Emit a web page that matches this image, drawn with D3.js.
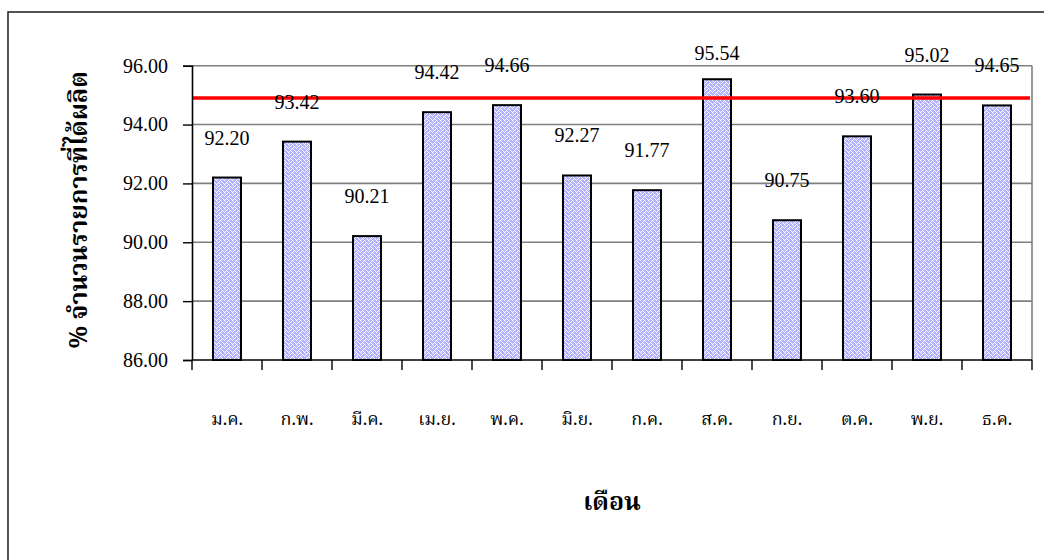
<!DOCTYPE html>
<html>
<head>
<meta charset="utf-8">
<script src="https://cdn.jsdelivr.net/npm/d3@7"></script>
<style>
  html, body { margin: 0; padding: 0; background: #fff; }
  svg { display: block; }
  .thai { font-family: "Noto Serif Thai", "Noto Sans Thai Looped", "Angsana New", "Noto Sans Thai", "Tahoma", serif; }
</style>
</head>
<body>
<svg id="chart" width="1044" height="560"></svg>
<script>
// Monthly share of items produced (%), Jan–Dec
const months = ["ม.ค.", "ก.พ.", "มี.ค.", "เม.ย.", "พ.ค.", "มิ.ย.", "ก.ค.", "ส.ค.", "ก.ย.", "ต.ค.", "พ.ย.", "ธ.ค."];
const values = [92.20, 93.42, 90.21, 94.42, 94.66, 92.27, 91.77, 95.54, 90.75, 93.60, 95.02, 94.65];
const targetValue = 94.9;
const yTicks = [86, 88, 90, 92, 94, 96];
const yTitle = "% จำนวนรายการที่ได้ผลิต";
const xTitle = "เดือน";

const serif = "Liberation Serif, Times New Roman, serif";
const svg = d3.select("#chart");
const plot = { left: 192, right: 1032, top: 65.7, bottom: 360 };

// outer chart frame (only its left and top edges fall inside the view)
svg.append("rect").attr("x", 8).attr("y", 12).attr("width", 1200).attr("height", 700)
  .attr("fill", "none").attr("stroke", "#2a2a2a").attr("stroke-width", 1.6);

// weave fill pattern for the bars
const defs = svg.append("defs");
const pat = defs.append("pattern").attr("id", "weave").attr("patternUnits", "userSpaceOnUse")
  .attr("width", 8).attr("height", 8);
pat.append("rect").attr("width", 8).attr("height", 8).attr("fill", "#ffffff");
const bits = [0x88, 0x54, 0x22, 0x45, 0x88, 0x14, 0x22, 0x51];
bits.forEach((b, r) => {
  for (let c = 0; c < 8; c++) {
    if (!((b >> (7 - c)) & 1)) {
      pat.append("rect").attr("x", c).attr("y", r).attr("width", 1).attr("height", 1).attr("fill", "#b3b3fd");
    }
  }
});

const x = d3.scaleBand().domain(months).range([plot.left, plot.right])
  .paddingInner(0.6).paddingOuter(0.3);
const y = d3.scaleLinear().domain([86, 96]).range([plot.bottom, plot.top]);

// gridlines
svg.append("g").selectAll("line").data(yTicks.filter(d => d > 86)).join("line")
  .attr("x1", plot.left).attr("x2", plot.right)
  .attr("y1", d => y(d)).attr("y2", d => y(d))
  .attr("stroke", "#808080").attr("stroke-width", 1.6);
// plot area right edge
svg.append("line").attr("x1", plot.right).attr("x2", plot.right)
  .attr("y1", plot.top).attr("y2", plot.bottom)
  .attr("stroke", "#808080").attr("stroke-width", 1.6);

// bars
svg.append("g").selectAll("rect").data(values).join("rect")
  .attr("x", (d, i) => x(months[i]))
  .attr("y", d => y(d))
  .attr("width", x.bandwidth())
  .attr("height", d => y(86) - y(d))
  .attr("fill", "url(#weave)")
  .attr("stroke", "#000").attr("stroke-width", 2);

// target line
svg.append("line").attr("x1", plot.left).attr("x2", plot.right - 2)
  .attr("y1", y(targetValue)).attr("y2", y(targetValue))
  .attr("stroke", "#ff0000").attr("stroke-width", 3.5);

// value labels
svg.append("g").selectAll("text").data(values).join("text")
  .attr("x", (d, i) => x(months[i]) + x.bandwidth() / 2)
  .attr("y", d => Math.max(y(d) - 33, 59.5))
  .attr("text-anchor", "middle").attr("font-size", 20).attr("fill", "#000")
  .attr("font-family", serif)
  .text(d => d.toFixed(2));

// y axis
const yAxis = d3.axisLeft(y).tickValues(yTicks).tickFormat(d3.format(".2f"))
  .tickSize(9).tickPadding(15);
const gy = svg.append("g").attr("transform", `translate(${plot.left},0)`).call(yAxis);
gy.select(".domain").attr("stroke", "#000").attr("stroke-width", 1.6);
gy.selectAll(".tick line").attr("stroke", "#000").attr("stroke-width", 1.4);
gy.selectAll(".tick text").attr("font-size", 20).attr("fill", "#000")
  .attr("font-family", serif);

// x axis: tick marks between categories
const bounds = d3.range(months.length + 1).map(i => plot.left + i * x.step());
svg.append("line").attr("x1", plot.left).attr("x2", plot.right)
  .attr("y1", plot.bottom).attr("y2", plot.bottom)
  .attr("stroke", "#000").attr("stroke-width", 1.6);
svg.append("g").selectAll("line").data(bounds).join("line")
  .attr("x1", d => d).attr("x2", d => d)
  .attr("y1", plot.bottom).attr("y2", plot.bottom + 10)
  .attr("stroke", "#000").attr("stroke-width", 1.4);
svg.append("g").attr("class", "thai").selectAll("text").data(months).join("text")
  .attr("x", d => x(d) + x.bandwidth() / 2)
  .attr("y", 425)
  .attr("text-anchor", "middle").attr("font-size", 18).attr("fill", "#000")
  .text(d => d);

// axis titles
svg.append("text").attr("class", "thai")
  .attr("transform", `translate(87,${(plot.top + plot.bottom) / 2 - 3}) rotate(-90)`)
  .attr("text-anchor", "middle").attr("font-size", 25).attr("font-weight", "bold")
  .text(yTitle);
svg.append("text").attr("class", "thai")
  .attr("x", (plot.left + plot.right) / 2).attr("y", 510)
  .attr("text-anchor", "middle").attr("font-size", 25).attr("font-weight", "bold")
  .text(xTitle);
</script>
</body>
</html>
